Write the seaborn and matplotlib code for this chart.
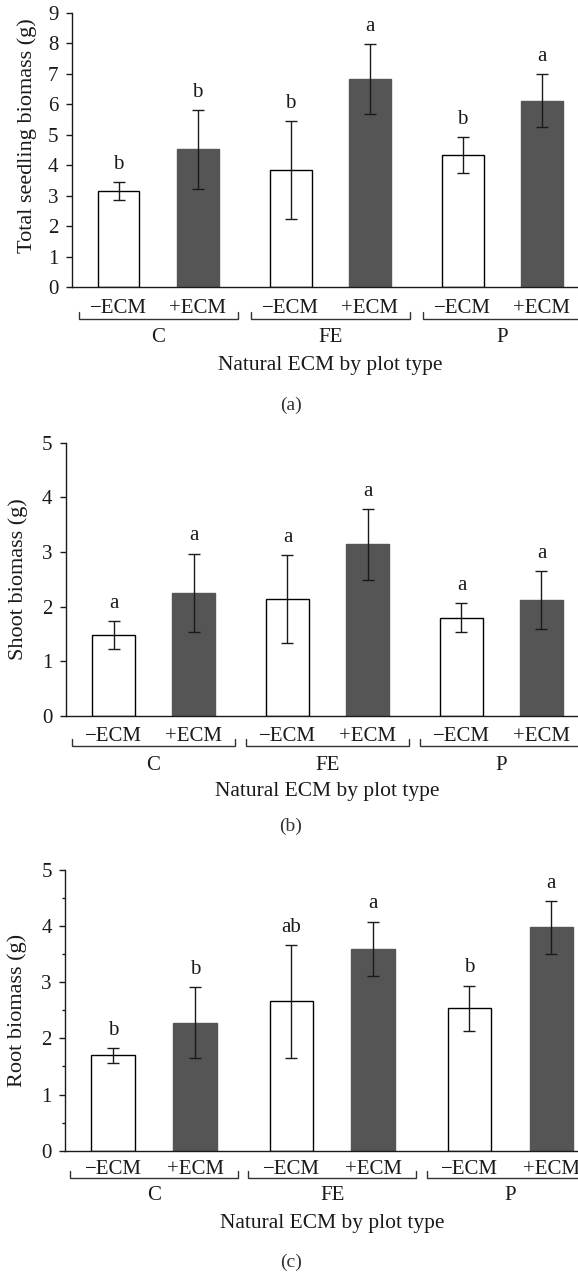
import matplotlib
matplotlib.use('Agg')
import matplotlib.pyplot as plt
from matplotlib.transforms import offset_copy
from matplotlib.ticker import MultipleLocator
import seaborn as sns
import pandas as pd

# Groups and treatments
PLOTS = ['C', 'FE', 'P']
TREATMENTS = ['\u2212ECM', '+ECM']

# Values, order: C-, C+, FE-, FE+, P-, P+
total_mean = [3.15, 4.52, 3.84, 6.83, 4.34, 6.12]
total_err = [0.30, 1.30, 1.60, 1.15, 0.59, 0.88]
total_letters = ['b', 'b', 'b', 'a', 'b', 'a']

shoot_mean = [1.48, 2.25, 2.14, 3.14, 1.80, 2.12]
shoot_err = [0.25, 0.72, 0.80, 0.65, 0.26, 0.53]
shoot_letters = ['a', 'a', 'a', 'a', 'a', 'a']

root_mean = [1.70, 2.28, 2.66, 3.60, 2.54, 3.98]
root_err = [0.13, 0.63, 1.00, 0.48, 0.40, 0.47]
root_letters = ['b', 'b', 'ab', 'a', 'b', 'a']

DARK = '#555555'
INK = '#1a1a1a'
PALETTE = {TREATMENTS[0]: 'white', TREATMENTS[1]: DARK}
FONT = ['Liberation Serif', 'DejaVu Serif']

sns.set_style('ticks')
plt.rcParams['font.family'] = FONT
plt.rcParams['axes.linewidth'] = 1.0
plt.rcParams['axes.edgecolor'] = INK

fig = plt.figure(figsize=(5.78, 12.74), dpi=100)
W, H = 578.0, 1274.0


def make_frame(means, errs, letters):
    rows = []
    k = 0
    for p in PLOTS:
        for t in TREATMENTS:
            rows.append({'plot': p, 'treatment': t, 'mean': means[k],
                         'err': errs[k], 'letter': letters[k]})
            k += 1
    return pd.DataFrame(rows)


def below(ax, px):
    # x in data units, y = px pixels below the bottom axis line
    return offset_copy(ax.get_xaxis_transform(), fig=fig, x=0, y=-px, units='dots')


def draw_panel(left_px, top_px, bottom_px, xlim, means, errs, letters,
               ymax, ylabel, ylab_x, ylab_y, tag, tag_y, offs, half=0.465,
               minor=False):
    ax = fig.add_axes([left_px / W, 1 - bottom_px / H,
                       1 - left_px / W, (bottom_px - top_px) / H])
    df = make_frame(means, errs, letters)
    sns.barplot(data=df, x='plot', y='mean', hue='treatment', order=PLOTS,
                hue_order=TREATMENTS, palette=PALETTE, width=0.92, gap=0.47,
                errorbar=None, edgecolor='black', linewidth=1.0,
                legend=False, ax=ax)

    bars = sorted(ax.patches, key=lambda b: b.get_x())
    centers = []
    for i, b in enumerate(bars):
        centers.append(b.get_x() + b.get_width() / 2)
        if i % 2 == 1:
            b.set_edgecolor(DARK)

    ax.errorbar(centers, df['mean'], yerr=df['err'], fmt='none', ecolor=INK,
                elinewidth=1.0, capsize=4, capthick=1.0, zorder=5)

    for cx, m, e, lab in zip(centers, df['mean'], df['err'], df['letter']):
        ax.annotate(lab, xy=(cx, m + e), xytext=(0, 9.5), textcoords='offset points',
                    ha='center', va='baseline', fontsize=15, color=INK)

    ax.set_xlim(*xlim)
    ax.set_ylim(0, ymax)
    ax.set_yticks(range(0, ymax + 1))
    if minor:
        ax.yaxis.set_minor_locator(MultipleLocator(0.5))
        ax.tick_params(axis='y', which='minor', length=2.5, width=1.0, color=INK)
    ax.tick_params(axis='y', which='major', direction='out', length=4.5, width=1.0,
                   pad=5, labelsize=15, color=INK, labelcolor=INK)
    ax.set_xticks([])
    ax.set_xlabel('')
    ax.set_ylabel(ylabel, fontsize=16, color=INK)
    ax.yaxis.set_label_coords(ylab_x, ylab_y)
    sns.despine(ax=ax)

    # treatment labels, group brackets and group names
    lab_off, br_off, grp_off, xl_off = offs
    tick_h = 7.0 / (bottom_px - top_px)  # bracket end ticks, 7 px tall
    for cx, t in zip(centers, TREATMENTS * len(PLOTS)):
        ax.text(cx, 0, t, transform=below(ax, lab_off), ha='center', va='center',
                fontsize=15, color=INK, clip_on=False)
    for g, p in enumerate(PLOTS):
        ax.plot([g - half, g - half, g + half, g + half], [tick_h, 0, 0, tick_h],
                transform=below(ax, br_off), color='#333333', lw=1.0,
                clip_on=False, solid_joinstyle='miter')
        ax.text(g, 0, p, transform=below(ax, grp_off), ha='center', va='center',
                fontsize=15, color=INK, clip_on=False)
    ax.text(1, 0, 'Natural ECM by plot type', transform=below(ax, xl_off),
            ha='center', va='center', fontsize=15.5, color=INK, clip_on=False)
    fig.text(0.503, 1 - tag_y / H, tag, ha='center', va='center', fontsize=14,
             color='#333333')
    return ax


draw_panel(71.7, 12.7, 287.3, (-0.502, 2.44), total_mean, total_err, total_letters,
           9, 'Total seedling biomass (g)', -0.0687, 0.551, '(a)', 405,
           (21, 31.7, 50, 77.7), half=0.462)

draw_panel(65.5, 442.7, 716.0, (-0.506, 2.44), shoot_mean, shoot_err, shoot_letters,
           5, 'Shoot biomass (g)', -0.074, 0.5, '(b)', 826,
           (20.7, 29.7, 49.7, 75.7), half=0.47)

draw_panel(65.0, 870.0, 1150.7, (-0.50, 2.38), root_mean, root_err, root_letters,
           5, 'Root biomass (g)', -0.075, 0.5, '(c)', 1262.7,
           (19.3, 27.6, 45.3, 72.6), half=0.47, minor=True)

fig.savefig('out.png', dpi=100)
